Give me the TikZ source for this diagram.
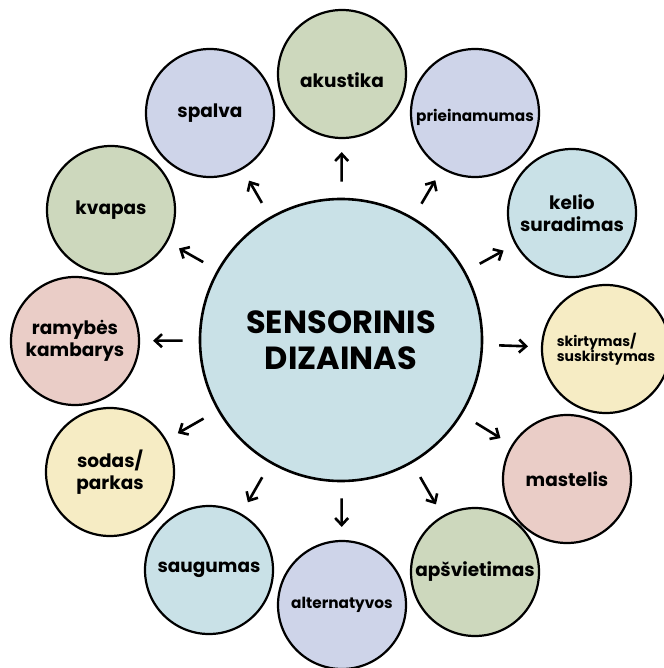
\documentclass[tikz,border=0pt]{standalone}
\usepackage{fontspec}
\setmainfont{Poppins}
\usetikzlibrary{arrows.meta}
\definecolor{sage}{HTML}{CDD8BD}
\definecolor{lavender}{HTML}{CED4E9}
\definecolor{paleblue}{HTML}{C9E1E7}
\definecolor{cream}{HTML}{F6ECC4}
\definecolor{rose}{HTML}{EACDC7}
\tikzset{
  hub/.style={circle, draw=black, line width=2.6pt, fill=paleblue, minimum size=282pt,
    inner sep=0pt, align=center, font=\fontsize{32}{36}\selectfont\bfseries},
  topic/.style={circle, draw=black, line width=2.2pt, minimum size=128pt, inner sep=0pt,
    align=center, font=\fontsize{18.5}{22}\selectfont\bfseries},
  small/.style={font=\fontsize{15.3}{17}\selectfont\bfseries},
  tiny/.style={font=\fontsize{14}{15}\selectfont\bfseries},
  arr/.style={line width=2.6pt, -{Straight Barb[length=7pt,width=13pt,line width=2.6pt]},
    shorten <=16pt, shorten >=13pt}
}
\begin{document}
\begin{tikzpicture}[x=1pt,y=-1pt]
\useasboundingbox (0,0) rectangle (663,668);
\node[hub] (c) at (341,340) {SENSORINIS\\DIZAINAS};
\node[topic, fill=sage, text height=27pt, text depth=0pt] (akustika) at (342,74)  {akustika};
\node[topic, fill=lavender, small, text height=20pt, text depth=3.3pt] (prieinamumas) at (475,113) {prieinamumas};
\node[topic, fill=paleblue] (kelio)    at (572,213) {kelio\\suradimas};
\node[topic, fill=cream, tiny, align=left] (skirtymas) at (606,349) {skirtymas/\\ suskirstymas};
\node[topic, fill=rose]     (mastelis) at (567,479) {mastelis};
\node[topic, fill=sage]     (apsvietimas) at (475,572) {apšvietimas};
\node[topic, fill=lavender, small] (alternatyvos) at (342,605) {alternatyvos};
\node[topic, fill=paleblue] (saugumas) at (209,570) {saugumas};
\node[topic, fill=cream]    (sodas)    at (110,472) {sodas/\\parkas};
\node[topic, fill=rose]     (ramybes)  at (75,341)  {ramybės\\kambarys};
\node[topic, fill=sage]     (kvapas)   at (111,210) {kvapas};
\node[topic, fill=lavender] (spalva)   at (210,113) {spalva};
\foreach \t in {akustika,prieinamumas,kelio,skirtymas,mastelis,apsvietimas,
                alternatyvos,saugumas,sodas,ramybes,kvapas,spalva}
  \draw[arr] (c) -- (\t);
\end{tikzpicture}
\end{document}
